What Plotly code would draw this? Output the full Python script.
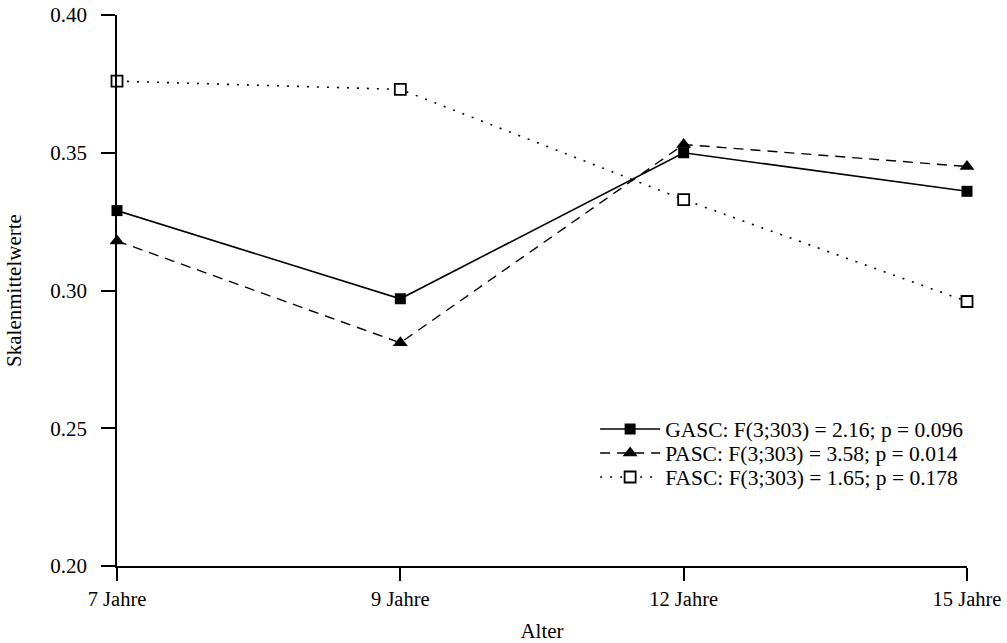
import plotly.graph_objects as go

categories = ["7 Jahre", "9 Jahre", "12 Jahre", "15 Jahre"]
gasc = [0.329, 0.297, 0.350, 0.336]
pasc = [0.318, 0.281, 0.353, 0.345]
fasc = [0.376, 0.373, 0.333, 0.296]
names = [
    "GASC: F(3;303) = 2.16; p = 0.096",
    "PASC: F(3;303) = 3.58; p = 0.014",
    "FASC: F(3;303) = 1.65; p = 0.178",
]
y_ticks = [0.20, 0.25, 0.30, 0.35, 0.40]

FONT = "Liberation Serif, Times New Roman, serif"

fig = go.Figure()
fig.add_trace(go.Scatter(
    x=categories, y=gasc, name=names[0], mode="lines+markers",
    line=dict(color="black", width=1.6, dash="solid"),
    marker=dict(symbol="square", size=11, color="black"),
    cliponaxis=False, legend="legend",
))
fig.add_trace(go.Scatter(
    x=categories, y=pasc, name=names[1], mode="lines+markers",
    line=dict(color="black", width=1.4, dash="10px,7px"),
    marker=dict(symbol="triangle-up", size=13, color="black"),
    cliponaxis=False, legend="legend2",
))
fig.add_trace(go.Scatter(
    x=categories, y=fasc, name=names[2], mode="lines+markers",
    line=dict(color="black", width=1.6, dash="2px,8px"),
    marker=dict(symbol="square", size=11, color="white",
                line=dict(color="black", width=1.8)),
    cliponaxis=False, legend="legend3",
))

def leg(y):
    return dict(
        x=0.5625, y=y, xanchor="left", yanchor="middle",
        bgcolor="rgba(0,0,0,0)", borderwidth=0,
        font=dict(family=FONT, size=21.5, color="black"),
        itemwidth=60,
    )

fig.update_layout(
    width=1007, height=643,
    margin=dict(l=117, r=40, t=15, b=77, autoexpand=False),
    paper_bgcolor="white", plot_bgcolor="white",
    font=dict(family=FONT, size=21, color="black"),
    showlegend=True,
    legend=leg(0.2486),
    legend2=leg(0.2051),
    legend3=leg(0.1615),
)
fig.update_xaxes(
    type="category", range=[0, 3],
    showgrid=False, zeroline=False,
    showline=True, linecolor="black", linewidth=2,
    ticks="outside", ticklen=13, tickwidth=1.5, tickcolor="black",
    tickfont=dict(family=FONT, size=20.5, color="black"),
    ticklabeloverflow="allow",
    title=dict(text="Alter", standoff=18,
               font=dict(family=FONT, size=21, color="black")),
    automargin=False,
)
fig.update_yaxes(
    range=[0.20, 0.40], tickvals=y_ticks, tickformat=".2f",
    showgrid=False, zeroline=False,
    showline=True, linecolor="black", linewidth=1.5,
    ticks="outside", ticklen=14, tickwidth=1.5, tickcolor="black",
    tickfont=dict(family=FONT, size=21, color="black"),
    ticklabelstandoff=10, ticklabeloverflow="allow",
    title=dict(text="Skalenmittelwerte", standoff=23,
               font=dict(family=FONT, size=21, color="black")),
    automargin=False,
)

fig.write_html(
    "out.html",
    config={"displayModeBar": False},
    post_script="document.body.style.margin='0';document.body.style.overflow='hidden';",
)
